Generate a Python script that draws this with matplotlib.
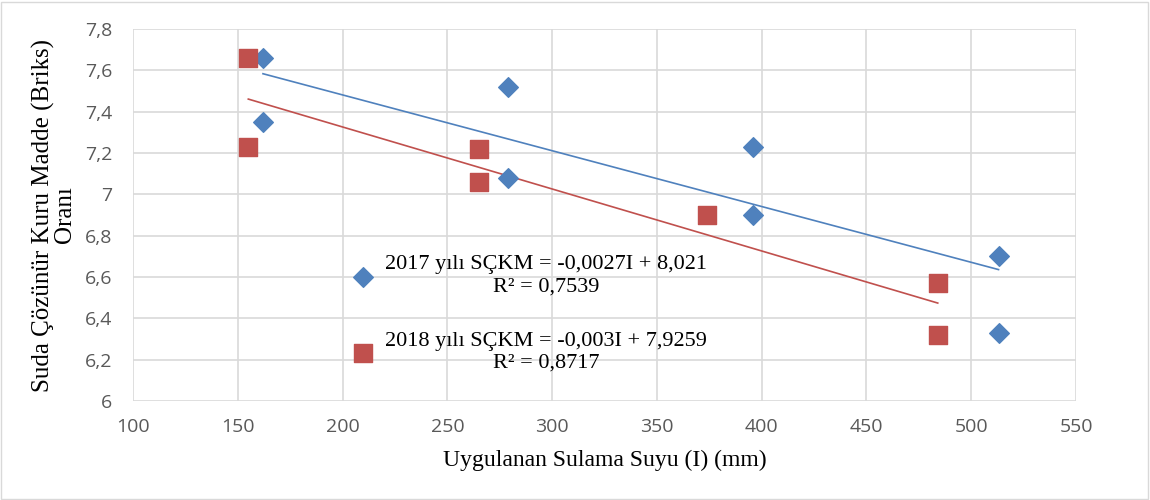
import numpy as np
import matplotlib
matplotlib.use("Agg")
import matplotlib.pyplot as plt
from matplotlib.ticker import FuncFormatter
from matplotlib.patches import Rectangle

# 2017 data
su_2017 = [162, 162, 279, 279, 396, 396, 513, 513]
sckm_2017 = [7.66, 7.35, 7.52, 7.08, 7.23, 6.90, 6.70, 6.33]
# 2018 data
su_2018 = [155, 155, 265, 265, 374, 484, 484]
sckm_2018 = [7.66, 7.23, 7.22, 7.06, 6.90, 6.57, 6.32]

# trend line coefficients (from chart labels)
fit_2017 = (-0.0027, 8.021)
fit_2018 = (-0.003, 7.9259)

label_2017 = "2017 yılı SÇKM = -0,0027I + 8,021\nR² = 0,7539"
label_2018 = "2018 yılı SÇKM = -0,003I + 7,9259\nR² = 0,8717"

blue = '#4F81BD'
red = '#C0504D'
serif = 'Liberation Serif'
tickfont = 'Open Sans'

fig = plt.figure(figsize=(11.5, 5), dpi=100)
ax = fig.add_axes([0.1157, 0.198, 0.820, 0.744])

ax.grid(True, color='#d9d9d9', linewidth=1.2)
ax.set_axisbelow(True)
for s in ax.spines.values():
    s.set_visible(False)

h1 = ax.scatter(su_2017, sckm_2017, marker='D', s=100, color=blue, zorder=3)
h2 = ax.scatter(su_2018, sckm_2018, marker='s', s=160, color=red, zorder=3)

x1 = np.array([min(su_2017), max(su_2017)])
ax.plot(x1, fit_2017[0] * x1 + fit_2017[1], color=blue, linewidth=1.2, zorder=2)
x2 = np.array([min(su_2018), max(su_2018)])
ax.plot(x2, fit_2018[0] * x2 + fit_2018[1], color=red, linewidth=1.2, zorder=2)

ax.set_xlim(100, 550)
ax.set_ylim(6, 7.8)
ax.set_xticks(np.arange(100, 551, 50))
ax.set_yticks(np.arange(6, 7.81, 0.2))

def fmt(v, pos):
    s = ('%.1f' % v)
    if s.endswith('.0'):
        s = s[:-2]
    return s.replace('.', ',')

ax.yaxis.set_major_formatter(FuncFormatter(fmt))
ax.tick_params(length=0, labelsize=14, labelcolor='#595959')
ax.tick_params(axis='x', pad=12)
ax.tick_params(axis='y', pad=15)
for t in ax.get_xticklabels() + ax.get_yticklabels():
    t.set_fontfamily(tickfont)

ax.set_xlabel('Uygulanan Sulama Suyu (I) (mm)', fontfamily=serif, fontsize=17, labelpad=10)
ax.set_ylabel('Suda Çözünür Kuru Madde (Briks)\nOranı', fontfamily=serif, fontsize=18,
              labelpad=6, linespacing=0.95)

leg = ax.legend([h1, h2], [label_2017, label_2018], loc='upper left',
                bbox_to_anchor=(0.211, 0.445), frameon=False,
                prop={'family': serif, 'size': 16}, labelspacing=1.6,
                handletextpad=0.5, handlelength=1.0)
for t in leg.get_texts():
    t.set_multialignment('center')
    t.set_linespacing(1.2)

fig.patches.append(Rectangle((0.001, 0.002), 0.997, 0.995, transform=fig.transFigure,
                             fill=False, edgecolor='#d9d9d9', linewidth=1))

fig.savefig('out.png', dpi=100)
